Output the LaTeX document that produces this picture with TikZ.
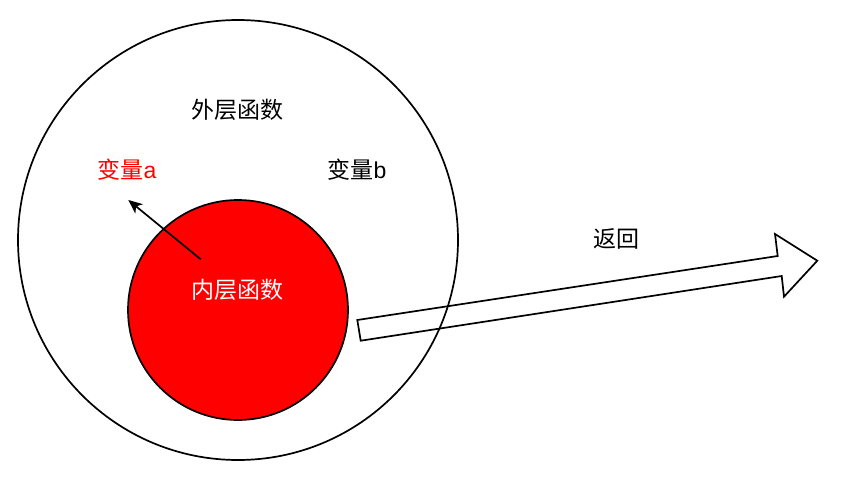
\documentclass[tikz,border=0pt]{standalone}
\usepackage{fontspec}
\setmainfont{Liberation Sans}
\newfontfamily\cjk{Noto Sans CJK SC}
\usetikzlibrary{arrows.meta}
\begin{document}
\begin{tikzpicture}[x=1pt,y=-1pt,
  ring/.style={circle,draw=black,line width=1.7pt,inner sep=0pt},
  lbl/.style={font=\fontsize{23}{26}\selectfont,inner sep=0pt},
  blockarrow/.style={draw=black,line width=1.7pt,line join=miter},
  ptr/.style={draw=black,line width=1.7pt,-{Stealth[length=14pt,width=12pt,inset=4pt]}}]
\useasboundingbox (0,0) rectangle (847,496);
\node[ring,minimum size=440pt] (outer) at (238,240) {};
\node[ring,fill=red,minimum size=220pt] (inner) at (238,310) {};
\node[lbl] (outerlbl) at (237,110) {\cjk 外层函数};
\node[lbl,text=red] (vara) at (127,170) {{\cjk 变量}a};
\node[lbl] (varb) at (357,170) {{\cjk 变量}b};
\node[lbl,text=white] (innerlbl) at (237,290) {\cjk 内层函数};
\node[lbl] (ret) at (616.5,239) {\cjk 返回};
\coordinate (ps) at (200.7,259.3);
\coordinate (pe) at (128.3,200);
\draw[ptr] (ps) -- (pe);
\coordinate (t1) at (357.3,320);
\coordinate (s1) at (777.7,256);
\coordinate (h1) at (775,234);
\coordinate (tip) at (817.3,260.7);
\coordinate (h2) at (784,296.7);
\coordinate (s2) at (781.7,276);
\coordinate (t2) at (360.7,340.7);
\draw[blockarrow] (t1) -- (s1) -- (h1) -- (tip) -- (h2) -- (s2) -- (t2) -- cycle;
\end{tikzpicture}
\end{document}
